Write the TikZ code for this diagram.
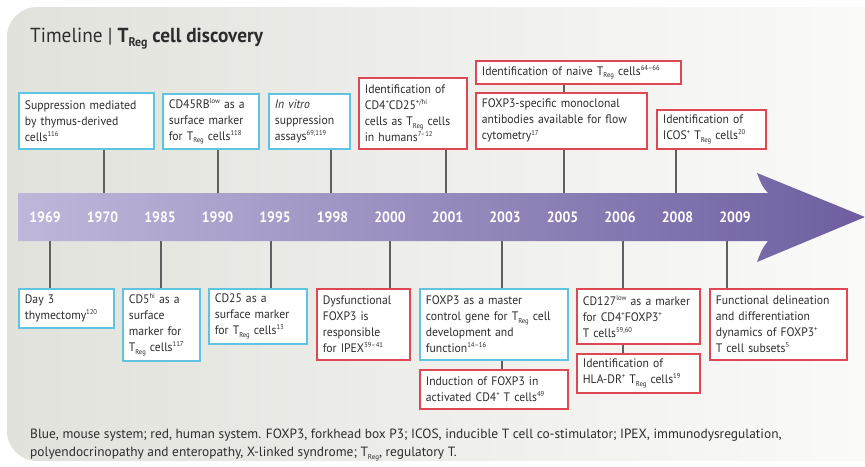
\documentclass[tikz,border=0pt]{standalone}
\usepackage{fontspec}
\setmainfont{PT Sans}[FakeStretch=0.95]
\newfontfamily\yearfont[FakeStretch=0.92]{PT Sans}
\newfontfamily\capfont{PT Sans}
\newcommand{\sps}[1]{\raisebox{0.8ex}{\fontsize{7}{7}\selectfont #1}}
\newcommand{\treg}{T\raisebox{-0.45ex}{\fontsize{7}{7}\selectfont Reg}}
\newcommand{\tregbig}{T\raisebox{-0.45ex}{\fontsize{12.5}{12.5}\selectfont Reg}}
\definecolor{bluebox}{RGB}{95,195,225}
\definecolor{redbox}{RGB}{222,72,82}
\definecolor{txt}{RGB}{45,45,45}
\definecolor{connc}{RGB}{95,95,95}
\definecolor{arrowL}{RGB}{190,183,218}
\definecolor{arrowR}{RGB}{110,94,160}
\definecolor{panelL}{RGB}{226,226,220}
\definecolor{panelR}{RGB}{250,250,249}
\tikzset{
  evbox/.style={draw, line width=1.7pt, fill=white, anchor=north west, inner xsep=6pt, inner ysep=2pt,
    align=left, font=\fontsize{12.3}{16}\selectfont, text=txt},
  mouse/.style={evbox, draw=bluebox},
  human/.style={evbox, draw=redbox},
  conn/.style={draw=connc, line width=1.3pt},
  yearlab/.style={text=white, font=\yearfont\bfseries\fontsize{15}{15}\selectfont, inner sep=0pt},
  captxt/.style={anchor=base west, inner sep=0pt, text=txt, font=\capfont\fontsize{13.4}{18}\selectfont},
}
\begin{document}
\begin{tikzpicture}[x=1pt,y=-1pt]
\useasboundingbox (0,0) rectangle (865,466);
% panel
\shade[left color=panelL, right color=panelR, rounded corners=30pt]
  (865,7) -- (7,7) -- (7,461) [sharp corners] -- (865,461) -- cycle;
% title
\node[anchor=base west, inner sep=0pt, text=txt, font=\fontsize{20.3}{24}\selectfont] (title) at (30,42)
  {Timeline | \textbf{\tregbig{} cell discovery}};
% connector coordinates
\coordinate (c1970) at (104,193);
\coordinate (c1990) at (218,193);
\coordinate (c1998) at (331,193);
\coordinate (c2001) at (446,193);
\coordinate (c2005) at (564,193);
\coordinate (c2008) at (676,193);
\coordinate (c1969) at (50,241);
\coordinate (c1985) at (161,241);
\coordinate (c1995) at (271,241);
\coordinate (c2000) at (390,241);
\coordinate (c2003) at (502,241);
\coordinate (c2006) at (623,241);
\coordinate (c2009) at (727,241);
% top boxes
\node[mouse, text width=123pt, minimum height=56pt] (t1) at (18,92)
  {Suppression mediated\\by thymus-derived\\cells\sps{116}};
\node[mouse, text width=84pt, minimum height=55pt] (t2) at (162,93)
  {CD45RB\sps{low} as a\\surface marker\\for \treg{} cells\sps{118}};
\node[mouse, text width=69pt, minimum height=55pt] (t3) at (268,93)
  {\textit{In vitro}\\suppression\\assays\sps{69,119}};
\node[human, text width=96pt, minimum height=71pt] (t4) at (358,77)
  {Identification of\\CD4\sps{+}CD25\sps{+/hi}\\cells as \treg{} cells\\in humans\sps{7--12}};
\node[human, text width=193pt, minimum height=23pt] (t5) at (475,60)
  {Identification of naive \treg{} cells\sps{64--66}};
\node[human, text width=159pt, minimum height=56pt] (t6) at (475,92)
  {FOXP3-specific monoclonal\\antibodies available for flow\\cytometry\sps{17}};
\node[human, text width=97pt, minimum height=39pt] (t7) at (656,109)
  {Identification of\\ICOS\sps{+} \treg{} cells\sps{20}};
% bottom boxes
\node[mouse, text width=83pt, minimum height=39pt] (b1) at (18,288)
  {Day 3\\thymectomy\sps{120}};
\node[mouse, text width=65pt, minimum height=72pt] (b2) at (122,288)
  {CD5\sps{hi} as a\\surface\\marker for\\\treg{} cells\sps{117}};
\node[mouse, text width=86pt, minimum height=55pt] (b3) at (208,288)
  {CD25 as a\\surface marker\\for \treg{} cells\sps{13}};
\node[human, text width=81pt, minimum height=71pt] (b4) at (316,288)
  {Dysfunctional\\FOXP3 is\\responsible\\for IPEX\sps{39--41}};
\node[mouse, text width=136pt, minimum height=71pt] (b5) at (419,288)
  {FOXP3 as a master\\control gene for \treg{} cell\\development and\\function\sps{14--16}};
\node[human, text width=136pt, minimum height=39pt] (b6) at (419,369)
  {Induction of FOXP3 in\\activated CD4\sps{+} T cells\sps{49}};
\node[human, text width=111pt, minimum height=55pt] (b7) at (576,288)
  {CD127\sps{low} as a marker\\for CD4\sps{+}FOXP3\sps{+}\\T cells\sps{59,60}};
\node[human, text width=111pt, minimum height=39pt] (b8) at (576,353)
  {Identification of\\HLA-DR\sps{+} \treg{} cells\sps{19}};
\node[human, text width=125pt, minimum height=71pt] (b9) at (709,288)
  {Functional delineation\\and differentiation\\dynamics of FOXP3\sps{+}\\T cell subsets\sps{5}};
% connectors
\draw[conn] (t1.south -| c1970) -- (c1970);
\draw[conn] (t2.south -| c1990) -- (c1990);
\draw[conn] (t3.south -| c1998) -- (c1998);
\draw[conn] (t4.south -| c2001) -- (c2001);
\draw[conn] (t6.south -| c2005) -- (c2005);
\draw[conn] (t5.south -| c2005) -- (t6.north -| c2005);
\draw[conn] (t7.south -| c2008) -- (c2008);
\draw[conn] (c1969) -- (b1.north -| c1969);
\draw[conn] (c1985) -- (b2.north -| c1985);
\draw[conn] (c1995) -- (b3.north -| c1995);
\draw[conn] (c2000) -- (b4.north -| c2000);
\draw[conn] (c2003) -- (b5.north -| c2003);
\draw[conn] (b5.south -| c2003) -- (b6.north -| c2003);
\draw[conn] (c2006) -- (b7.north -| c2006);
\draw[conn] (b7.south -| c2006) -- (b8.north -| c2006);
\draw[conn] (c2009) -- (b9.north -| c2009);
% arrow
\shade[left color=arrowL, right color=arrowR]
  (18,193) -- (768,193) .. controls (762,186) .. (757,173) -- (865,217)
  -- (757,262) .. controls (762,249) .. (768,241) -- (18,241) -- cycle;
% years
\foreach \yr [count=\i from 0] in {1969,1970,1985,1990,1995,1998,2000,2001,2003,2005,2006,2008,2009}
  \node[yearlab] (y\yr) at (45+57.5*\i,217) {\yr};
% caption
\node[captxt] (cap1) at (30,438)
  {Blue, mouse system; red, human system. FOXP3, forkhead box P3; ICOS, inducible T cell co-stimulator; IPEX, immunodysregulation,};
\node[captxt] (cap2) at (30,456)
  {polyendocrinopathy and enteropathy, X-linked syndrome; \treg, regulatory T.};
\end{tikzpicture}
\end{document}
